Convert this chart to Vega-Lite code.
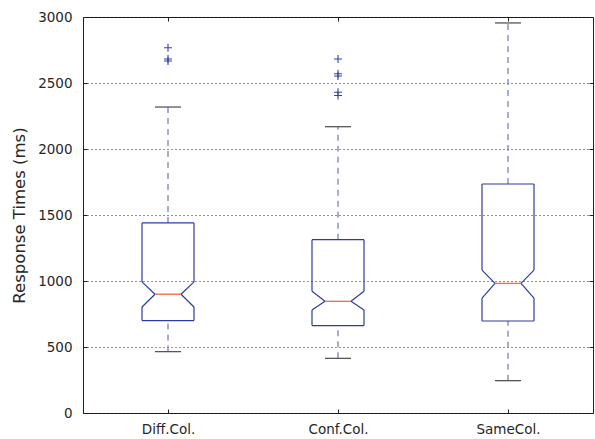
{
  "$schema": "https://vega.github.io/schema/vega-lite/v6.json",
  "width": 510,
  "height": 396,
  "autosize": {"type": "none"},
  "padding": {"left": 83, "top": 17, "right": 2, "bottom": 26},
  "background": "white",
  "datasets": {
    "stats": [
      {"cat": "Diff.Col.", "lo": 465, "q1": 700, "nlo": 803, "med": 900, "nhi": 993, "q3": 1440, "hi": 2318},
      {"cat": "Conf.Col.", "lo": 414, "q1": 662, "nlo": 780, "med": 846, "nhi": 922, "q3": 1313, "hi": 2169},
      {"cat": "SameCol.", "lo": 245, "q1": 697, "nlo": 871, "med": 982, "nhi": 1083, "q3": 1735, "hi": 2955}
    ],
    "outliers": [
      {"cat": "Diff.Col.", "value": 2767},
      {"cat": "Diff.Col.", "value": 2682},
      {"cat": "Diff.Col.", "value": 2667},
      {"cat": "Conf.Col.", "value": 2682},
      {"cat": "Conf.Col.", "value": 2570},
      {"cat": "Conf.Col.", "value": 2553},
      {"cat": "Conf.Col.", "value": 2430},
      {"cat": "Conf.Col.", "value": 2405}
    ]
  },
  "data": {"name": "stats"},
  "layer": [
    {
      "mark": {"type": "rule", "color": "#7a80c8", "strokeWidth": 1.3, "strokeDash": [6, 5]},
      "encoding": {
        "x": {"field": "cat", "type": "nominal", "sort": null, "scale": {"type": "point", "padding": 0.5},
          "axis": {"orient": "bottom", "title": null, "labelAngle": 0, "labelPadding": 13, "grid": false}},
        "y": {"field": "lo", "type": "quantitative", "scale": {"domain": [0, 3000], "nice": false},
          "axis": {"orient": "left", "title": "Response Times (ms)", "values": [0, 500, 1000, 1500, 2000, 2500, 3000], "format": "d",
            "grid": true, "gridColor": "#000", "gridDash": [1, 3], "gridOpacity": 0.85, "labelPadding": 15, "titlePadding": 10}},
        "y2": {"field": "q1"}
      }
    },
    {
      "mark": {"type": "rule", "color": "#7a80c8", "strokeWidth": 1.3, "strokeDash": [6, 5]},
      "encoding": {
        "x": {"field": "cat", "type": "nominal", "sort": null, "axis": {"orient": "top", "title": null, "labels": false, "grid": false}},
        "y": {"field": "q3", "type": "quantitative", "axis": {"orient": "right", "title": null, "labels": false, "grid": false, "values": [0, 500, 1000, 1500, 2000, 2500, 3000]}},
        "y2": {"field": "hi"}
      }
    },
    {
      "mark": {"type": "rule", "color": "#555555", "strokeWidth": 1.3, "xOffset": -13, "x2Offset": 13},
      "encoding": {
        "x": {"field": "cat", "type": "nominal", "sort": null, "axis": null},
        "x2": {"field": "cat"},
        "y": {"field": "hi", "type": "quantitative", "axis": null}
      }
    },
    {
      "mark": {"type": "rule", "color": "#555555", "strokeWidth": 1.3, "xOffset": -13, "x2Offset": 13},
      "encoding": {
        "x": {"field": "cat", "type": "nominal", "sort": null, "axis": null},
        "x2": {"field": "cat"},
        "y": {"field": "lo", "type": "quantitative", "axis": null}
      }
    },
    {
      "mark": {"type": "rule", "color": "#2b3c9c", "strokeWidth": 1.2, "xOffset": -26, "x2Offset": 26},
      "encoding": {
        "x": {"field": "cat", "type": "nominal", "sort": null, "axis": null},
        "x2": {"field": "cat"},
        "y": {"field": "q3", "type": "quantitative", "axis": null}
      }
    },
    {
      "mark": {"type": "rule", "color": "#2b3c9c", "strokeWidth": 1.2, "xOffset": -26, "x2Offset": 26},
      "encoding": {
        "x": {"field": "cat", "type": "nominal", "sort": null, "axis": null},
        "x2": {"field": "cat"},
        "y": {"field": "q1", "type": "quantitative", "axis": null}
      }
    },
    {
      "mark": {"type": "rule", "color": "#2b3c9c", "strokeWidth": 1.2, "xOffset": -26},
      "encoding": {
        "x": {"field": "cat", "type": "nominal", "sort": null, "axis": null},
        "y": {"field": "q1", "type": "quantitative", "axis": null},
        "y2": {"field": "nlo"}
      }
    },
    {
      "mark": {"type": "rule", "color": "#2b3c9c", "strokeWidth": 1.2, "xOffset": 26},
      "encoding": {
        "x": {"field": "cat", "type": "nominal", "sort": null, "axis": null},
        "y": {"field": "q1", "type": "quantitative", "axis": null},
        "y2": {"field": "nlo"}
      }
    },
    {
      "mark": {"type": "rule", "color": "#2b3c9c", "strokeWidth": 1.2, "xOffset": -26},
      "encoding": {
        "x": {"field": "cat", "type": "nominal", "sort": null, "axis": null},
        "y": {"field": "nhi", "type": "quantitative", "axis": null},
        "y2": {"field": "q3"}
      }
    },
    {
      "mark": {"type": "rule", "color": "#2b3c9c", "strokeWidth": 1.2, "xOffset": 26},
      "encoding": {
        "x": {"field": "cat", "type": "nominal", "sort": null, "axis": null},
        "y": {"field": "nhi", "type": "quantitative", "axis": null},
        "y2": {"field": "q3"}
      }
    },
    {
      "mark": {"type": "rule", "color": "#2b3c9c", "strokeWidth": 1.2, "xOffset": -26, "x2Offset": -13},
      "encoding": {
        "x": {"field": "cat", "type": "nominal", "sort": null, "axis": null},
        "x2": {"field": "cat"},
        "y": {"field": "nlo", "type": "quantitative", "axis": null},
        "y2": {"field": "med"}
      }
    },
    {
      "mark": {"type": "rule", "color": "#2b3c9c", "strokeWidth": 1.2, "xOffset": -26, "x2Offset": -13},
      "encoding": {
        "x": {"field": "cat", "type": "nominal", "sort": null, "axis": null},
        "x2": {"field": "cat"},
        "y": {"field": "nhi", "type": "quantitative", "axis": null},
        "y2": {"field": "med"}
      }
    },
    {
      "mark": {"type": "rule", "color": "#2b3c9c", "strokeWidth": 1.2, "xOffset": 26, "x2Offset": 13},
      "encoding": {
        "x": {"field": "cat", "type": "nominal", "sort": null, "axis": null},
        "x2": {"field": "cat"},
        "y": {"field": "nlo", "type": "quantitative", "axis": null},
        "y2": {"field": "med"}
      }
    },
    {
      "mark": {"type": "rule", "color": "#2b3c9c", "strokeWidth": 1.2, "xOffset": 26, "x2Offset": 13},
      "encoding": {
        "x": {"field": "cat", "type": "nominal", "sort": null, "axis": null},
        "x2": {"field": "cat"},
        "y": {"field": "nhi", "type": "quantitative", "axis": null},
        "y2": {"field": "med"}
      }
    },
    {
      "mark": {"type": "rule", "color": "#f2704a", "strokeWidth": 1.4, "xOffset": -13, "x2Offset": 13},
      "encoding": {
        "x": {"field": "cat", "type": "nominal", "sort": null, "axis": null},
        "x2": {"field": "cat"},
        "y": {"field": "med", "type": "quantitative", "axis": null}
      }
    },
    {
      "data": {"name": "outliers"},
      "mark": {"type": "point", "shape": "M-1,0L1,0M0,-1L0,1", "size": 64, "filled": false, "stroke": "#3343a8", "strokeWidth": 1.1, "opacity": 1},
      "encoding": {
        "x": {"field": "cat", "type": "nominal", "sort": null, "axis": null},
        "y": {"field": "value", "type": "quantitative", "axis": null}
      }
    }
  ],
  "resolve": {"axis": {"x": "independent", "y": "independent"}},
  "config": {
    "view": {"stroke": "#222222", "strokeWidth": 1},
    "axis": {
      "labelFont": "DejaVu Sans",
      "labelFontSize": 13.5,
      "labelColor": "#262626",
      "titleFont": "DejaVu Sans",
      "titleFontSize": 16.5,
      "titleFontWeight": "normal",
      "titleColor": "#262626",
      "domain": false,
      "tickColor": "#222222",
      "tickSize": -4,
      "tickWidth": 1
    }
  }
}
